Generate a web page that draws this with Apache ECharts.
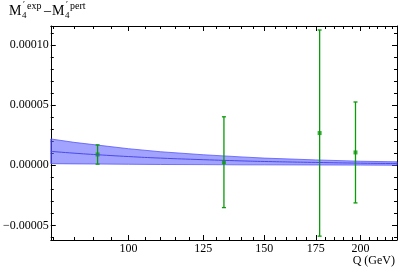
<!DOCTYPE html>
<html><head><meta charset="utf-8">
<script src="https://cdn.jsdelivr.net/npm/echarts@6/dist/echarts.min.js"></script>
<style>html,body{margin:0;padding:0;background:#fff}#c{width:399px;height:269px}</style>
</head><body><div id="c"></div>
<script>
// Data
const ptQ   = [91.2, 133, 177, 197];
const ptVal = [9.0e-6, 2.6e-6, 2.68e-5, 1.07e-5];
const ptErr = [8.0e-6, 3.77e-5, 8.56e-5, 4.19e-5];

const bandQ   = [79.3, 85, 91.2, 100, 110, 125, 140, 150, 175, 200, 223];
const bandMid = [1.16e-5, 1.01e-5, 8.8e-6, 7.3e-6, 6.0e-6, 4.7e-6, 3.7e-6, 3.2e-6, 2.4e-6, 1.8e-6, 1.5e-6];
const bandUp  = [2.19e-5, 1.91e-5, 1.68e-5, 1.38e-5, 1.13e-5, 8.8e-6, 7.0e-6, 6.0e-6, 4.5e-6, 3.4e-6, 2.9e-6];
const bandLo  = [1.4e-6, 1.2e-6, 1.1e-6, 0.9e-6, 0.7e-6, 0.6e-6, 0.4e-6, 0.4e-6, 0.3e-6, 0.2e-6, 0.1e-6];

const xMajor = [100, 125, 150, 175, 200];
const xMinor = [80, 85, 90, 95, 105, 110, 115, 120, 130, 135, 140, 145, 155, 160, 165, 170, 180, 185, 190, 195, 205, 210, 215, 220];
const yMajor = [-0.00005, 0, 0.00005, 0.00010];
const yMajorLabels = ['\u22120.00005', '0.00000', '0.00005', '0.00010'];
const yMinor = [-0.00006, -0.00004, -0.00003, -0.00002, -0.00001, 0.00001, 0.00002, 0.00003, 0.00004, 0.00006, 0.00007, 0.00008, 0.00009, 0.00011];

const L = Math.log;
const xMin = L(79.3), xMax = L(223);
const yMin = -0.000062, yMax = 0.0001157;
const font = 'Liberation Serif';

function xAx(pos, vals, len, showLine, showLabel) {
  return {
    type: 'value', position: pos, min: xMin, max: xMax,
    axisLine: {show: showLine, onZero: false, lineStyle: {color: '#000', width: 1}},
    axisTick: {show: true, inside: true, length: len, customValues: vals.map(L), lineStyle: {color: '#000', width: 1}},
    axisLabel: showLabel ? {show: true, customValues: vals.map(L), margin: 3, color: '#000', fontFamily: font, fontSize: 12,
      formatter: v => String(Math.round(Math.exp(v)))} : {show: false},
    splitLine: {show: false}
  };
}
function yAx(pos, vals, len, showLine, showLabel) {
  return {
    type: 'value', position: pos, min: yMin, max: yMax,
    axisLine: {show: showLine, onZero: false, lineStyle: {color: '#000', width: 1}},
    axisTick: {show: true, inside: true, length: len, customValues: vals, lineStyle: {color: '#000', width: 1}},
    axisLabel: showLabel ? {show: true, customValues: vals, margin: 2, color: '#000', fontFamily: font, fontSize: 12,
      formatter: v => { const i = yMajor.findIndex(m => Math.abs(m - v) < 1e-9); return i >= 0 ? yMajorLabels[i] : ''; }} : {show: false},
    splitLine: {show: false}
  };
}

const chart = echarts.init(document.getElementById('c'), null, {renderer: 'canvas'});
chart.setOption({
  animation: false,
  grid: {left: 50, right: 2, top: 26, bottom: 29, containLabel: false},
  xAxis: [
    xAx('bottom', xMajor, 5, true, true),
    xAx('bottom', xMinor, 3, false, false),
    xAx('top', xMajor, 5, true, false),
    xAx('top', xMinor, 3, false, false)
  ],
  yAxis: [
    yAx('left', yMajor, 5, true, true),
    yAx('left', yMinor, 3, false, false),
    yAx('right', yMajor, 5, true, false),
    yAx('right', yMinor, 3, false, false)
  ],
  graphic: [
    {type: 'text', left: 9, top: 4, style: {text: 'M', font: '14px "Liberation Serif"', fill: '#000'}},
    {type: 'text', left: 22, top: 11, style: {text: '4', font: '9px "Liberation Serif"', fill: '#000'}},
    {type: 'text', left: 23, top: 0, style: {text: '\u2032', font: '9px "Liberation Serif"', fill: '#000'}},
    {type: 'text', left: 27, top: 1, style: {text: 'exp', font: '10px "Liberation Serif"', fill: '#000'}},
    {type: 'text', left: 44, top: 4, style: {text: '\u2013', font: '14px "Liberation Serif"', fill: '#000'}},
    {type: 'text', left: 52, top: 4, style: {text: 'M', font: '14px "Liberation Serif"', fill: '#000'}},
    {type: 'text', left: 65, top: 11, style: {text: '4', font: '9px "Liberation Serif"', fill: '#000'}},
    {type: 'text', left: 66, top: 0, style: {text: '\u2032', font: '9px "Liberation Serif"', fill: '#000'}},
    {type: 'text', left: 70, top: 1, style: {text: 'pert', font: '10px "Liberation Serif"', fill: '#000'}},
    {type: 'text', right: 4, top: 255, style: {text: 'Q (GeV)', font: '12px "Liberation Serif"', fill: '#000'}}
  ],
  series: [
    {
      type: 'custom',
      data: bandQ.map((q, i) => [L(q), bandLo[i], bandUp[i]]),
      clip: true,
      renderItem: function (params, api) {
        if (params.dataIndexInside !== 0) return null;
        const n = bandQ.length, top = [], bot = [];
        for (let j = 0; j < n; j++) {
          top.push(api.coord([api.value(0, j), api.value(2, j)]));
          bot.push(api.coord([api.value(0, j), api.value(1, j)]));
        }
        const pts = top.concat(bot.reverse());
        return {type: 'group', children: [
          {type: 'polygon', shape: {points: pts, smooth: 0}, style: {fill: 'rgba(95,95,255,0.58)', stroke: 'rgba(80,80,255,0.75)', lineWidth: 1}}
        ]};
      },
      silent: true
    },
    {
      type: 'line', smooth: true, symbol: 'none',
      data: bandQ.map((q, i) => [L(q), bandMid[i]]),
      lineStyle: {color: '#4a4ae8', width: 1},
      silent: true
    },
    {
      type: 'custom',
      data: ptQ.map((q, i) => [L(q), ptVal[i] - ptErr[i], ptVal[i] + ptErr[i]]),
      renderItem: function (params, api) {
        const lo = api.coord([api.value(0), api.value(1)]);
        const hi = api.coord([api.value(0), api.value(2)]);
        const st = {stroke: '#0a9a0a', lineWidth: 1.3};
        return {type: 'group', children: [
          {type: 'line', shape: {x1: lo[0], y1: lo[1], x2: hi[0], y2: hi[1]}, style: st},
          {type: 'line', shape: {x1: lo[0] - 2, y1: lo[1], x2: lo[0] + 2, y2: lo[1]}, style: st},
          {type: 'line', shape: {x1: hi[0] - 2, y1: hi[1], x2: hi[0] + 2, y2: hi[1]}, style: st}
        ]};
      },
      silent: true
    },
    {
      type: 'scatter', symbol: 'rect', symbolSize: 4,
      data: ptQ.map((q, i) => [L(q), ptVal[i]]),
      itemStyle: {color: '#0a9a0a'},
      silent: true
    }
  ]
});
</script>
</body></html>
